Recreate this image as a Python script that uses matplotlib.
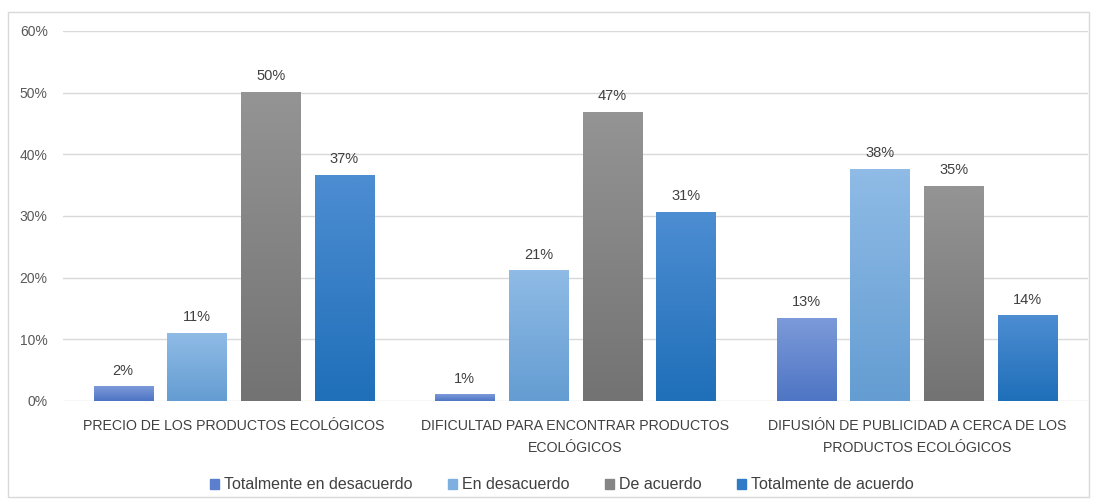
import matplotlib.pyplot as plt
import matplotlib.colors as mcolors
import numpy as np
from matplotlib.patches import Rectangle

categories = [
    "PRECIO DE LOS PRODUCTOS ECOLÓGICOS",
    "DIFICULTAD PARA ENCONTRAR PRODUCTOS\nECOLÓGICOS",
    "DIFUSIÓN DE PUBLICIDAD A CERCA DE LOS\nPRODUCTOS ECOLÓGICOS",
]
series_names = ["Totalmente en desacuerdo", "En desacuerdo", "De acuerdo", "Totalmente de acuerdo"]
tot_desacuerdo = [0.023, 0.010, 0.134]
en_desacuerdo = [0.110, 0.211, 0.376]
de_acuerdo = [0.500, 0.468, 0.348]
tot_acuerdo = [0.366, 0.306, 0.138]
values = [tot_desacuerdo, en_desacuerdo, de_acuerdo, tot_acuerdo]

# gradient colours (top, bottom) per series
grad = [("#7C9AD9", "#4E75C4"), ("#8FBBE6", "#649DD2"), ("#949494", "#737373"), ("#4D8DD2", "#1F6FB9")]
solid = ["#5B7FCC", "#7DB0E0", "#858585", "#2F7BC8"]

plt.rcParams["font.family"] = ["Liberation Sans", "DejaVu Sans"]

fig = plt.figure(figsize=(10.93, 5.04), dpi=100)
ax = fig.add_axes([0.0576, 0.2044, 0.9374, 0.7341])

x = np.arange(len(categories))
width = 0.173
pitch = 0.216
offsets = (np.arange(4) - 1.5) * pitch

for i, vals in enumerate(values):
    top, bot = mcolors.to_rgb(grad[i][0]), mcolors.to_rgb(grad[i][1])
    g = np.linspace(0, 1, 64)[:, None]
    img = np.array(top)[None, :] * (1 - g) + np.array(bot)[None, :] * g
    img = img[:, None, :]
    for j, v in enumerate(vals):
        x0 = x[j] + offsets[i] - width / 2
        ax.imshow(img, extent=[x0, x0 + width, 0, v], aspect="auto", zorder=2, interpolation="bilinear")
        ax.text(x[j] + offsets[i], v + 0.015, f"{round(v * 100):d}%", ha="center", va="bottom",
                fontsize=10.5, color="#404040")

ax.set_xlim(-0.5, 2.5)
ax.set_ylim(0, 0.6)
ax.set_yticks(np.arange(0, 0.61, 0.1))
ax.set_yticklabels([f"{int(t * 100)}%" for t in np.arange(0, 0.61, 0.1).round(2)], fontsize=10, color="#595959")
ax.set_xticks(x)
ax.set_xticklabels(categories, fontsize=10.2, color="#404040", linespacing=1.7)
ax.tick_params(axis="both", length=0)
ax.tick_params(axis="x", pad=13)
ax.tick_params(axis="y", pad=11)
ax.grid(axis="y", color="#D9D9D9", linewidth=1)
ax.set_axisbelow(True)
for s in ax.spines.values():
    s.set_visible(False)

handles = [Rectangle((0, 0), 1, 1, color=c) for c in solid]
fig.legend(handles, series_names, loc="center", bbox_to_anchor=(0.514, 0.038), ncol=4, frameon=False,
           fontsize=11.5, handlelength=0.6, handleheight=0.6, handletextpad=0.3, columnspacing=2.2,
           labelcolor="#404040")

# chart border
fig.patches.append(Rectangle((8 / 1093, 7 / 504), 1081 / 1093, 485 / 504, transform=fig.transFigure,
                             fill=False, edgecolor="#D9D9D9", linewidth=1))

fig.savefig("out.png", dpi=100)
